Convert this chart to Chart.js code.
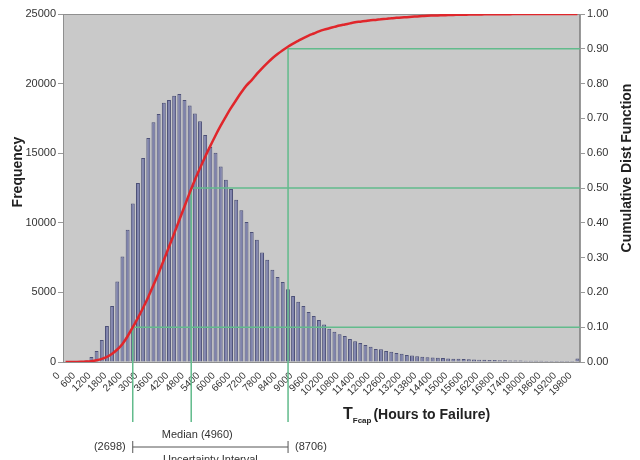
<!DOCTYPE html>
<html>
<head>
<meta charset="utf-8">
<script src="https://cdn.jsdelivr.net/npm/chart.js@4"></script>
<style>
  body { margin: 0; background: #fff; }
  canvas { display: block; }
</style>
</head>
<body>
<canvas id="failureChart" width="640" height="460"></canvas>
<script>
// bins of 200 hours (bin start)
const hours = [0,200,400,600,800,1000,1200,1400,1600,1800,2000,2200,2400,2600,2800,3000,3200,3400,3600,3800,
  4000,4200,4400,4600,4800,5000,5200,5400,5600,5800,6000,6200,6400,6600,6800,7000,7200,7400,7600,7800,
  8000,8200,8400,8600,8800,9000,9200,9400,9600,9800,10000,10200,10400,10600,10800,11000,11200,11400,11600,11800,
  12000,12200,12400,12600,12800,13000,13200,13400,13600,13800,14000,14200,14400,14600,14800,15000,15200,15400,15600,15800,
  16000,16200,16400,16600,16800,17000,17200,17400,17600,17800,18000,18200,18400,18600,18800,19000,19200,19400,19600,19800];

// histogram counts
const frequency = [0,5,20,50,110,360,790,1580,2590,4030,5780,7580,9500,11380,12860,14660,16100,17230,17810,18620,
  18820,19120,19250,18820,18430,17850,17300,16300,15450,15030,14040,13100,12430,11660,10900,10060,9340,8780,7870,7340,
  6620,6100,5740,5230,4750,4320,4030,3600,3310,3020,2690,2380,2180,1990,1870,1660,1490,1370,1220,1100,
  940,910,790,740,650,600,500,460,410,380,350,320,300,280,260,240,225,210,195,180,
  170,160,150,140,130,122,115,108,102,96,91,87,83,80,77,74,72,70,68,250];

// cumulative distribution
const cdf = [0,0,0.0002,0.0005,0.0012,0.0025,0.005,0.009,0.015,0.024,0.036,0.052,0.074,0.100,0.127,0.156,0.187,0.221,0.256,0.293,
  0.331,0.369,0.408,0.447,0.486,0.523,0.557,0.590,0.621,0.651,0.679,0.705,0.730,0.753,0.775,0.795,0.810,0.828,0.844,0.859,
  0.873,0.885,0.896,0.906,0.915,0.923,0.931,0.938,0.944,0.950,0.955,0.959,0.963,0.967,0.970,0.973,0.976,0.978,0.980,0.982,
  0.983,0.985,0.986,0.988,0.989,0.990,0.991,0.992,0.993,0.994,0.995,0.9955,0.996,0.9965,0.997,0.9974,0.9978,0.998,0.9983,0.9986,
  0.9988,0.999,0.9992,0.9993,0.9994,0.9995,0.9996,0.9997,0.9997,0.9998,0.9998,0.9999,0.9999,0.9999,0.9999,1,1,1,1,1];

// percentile markers (10%, median, 90%)
const markHours = [2698, 4960, 8706];
const markProb = [0.1, 0.5, 0.9];

const binWidth = hours[1] - hours[0];
const GREEN = "#62bb8c";
const FONT = "'Liberation Sans', Arial, sans-serif";

Chart.defaults.font.family = FONT;
Chart.defaults.color = "#333";

const hourPx = (chart, h) => chart.scales.x.getPixelForValue(h / binWidth - 0.5);

const decor = {
  id: "decor",
  beforeDatasetsDraw(chart) {
    const { ctx, chartArea: a } = chart;
    ctx.save();
    ctx.fillStyle = "#c9c9c9";
    ctx.fillRect(a.left, a.top, a.right - a.left, a.bottom - a.top);
    ctx.strokeStyle = "#8f8f8f";
    ctx.lineWidth = 1;
    ctx.strokeRect(a.left + 0.5, a.top + 0.5, a.right - a.left - 1, a.bottom - a.top);
    ctx.restore();
  },
  afterDatasetDraw(chart, args) {
    if (args.index !== 0) return;
    const { ctx, chartArea: a, scales } = chart;
    ctx.save();
    ctx.strokeStyle = GREEN;
    ctx.lineWidth = 1.5;
    markHours.forEach((h, k) => {
      const x = hourPx(chart, h);
      const y = scales.y1.getPixelForValue(markProb[k]);
      ctx.beginPath();
      ctx.moveTo(a.right, y);
      ctx.lineTo(x, y);
      ctx.lineTo(x, a.bottom + 60);
      ctx.stroke();
    });
    ctx.restore();
  },
  afterDraw(chart) {
    const { ctx } = chart;
    ctx.save();
    ctx.fillStyle = "#222";

    // axis titles
    ctx.font = "bold 14px " + FONT;
    ctx.textAlign = "center";
    ctx.textBaseline = "middle";
    ctx.save();
    ctx.translate(18, 172);
    ctx.rotate(-Math.PI / 2);
    ctx.fillText("Frequency", 0, 0);
    ctx.restore();
    ctx.save();
    ctx.translate(627, 168);
    ctx.rotate(-Math.PI / 2);
    ctx.fillText("Cumulative Dist Function", 0, 0);
    ctx.restore();

    ctx.textAlign = "left";
    ctx.textBaseline = "alphabetic";
    let tx = 343;
    ctx.font = "bold 16px " + FONT;
    ctx.fillText("T", tx, 419);
    tx += ctx.measureText("T").width;
    ctx.font = "bold 8px " + FONT;
    ctx.fillText("Fcap", tx, 423);
    tx += ctx.measureText("Fcap").width + 2;
    ctx.font = "bold 14px " + FONT;
    ctx.fillText("(Hours to Failure)", tx, 419);

    // uncertainty interval
    const x1 = hourPx(chart, markHours[0]);
    const xm = hourPx(chart, markHours[1]);
    const x2 = hourPx(chart, markHours[2]);
    const yb = 447;
    ctx.strokeStyle = "#555";
    ctx.lineWidth = 1;
    ctx.beginPath();
    ctx.moveTo(x1, yb); ctx.lineTo(x2, yb);
    ctx.moveTo(x1, yb - 6); ctx.lineTo(x1, yb + 6);
    ctx.moveTo(x2, yb - 6); ctx.lineTo(x2, yb + 6);
    ctx.stroke();

    ctx.fillStyle = "#333";
    ctx.font = "11px " + FONT;
    ctx.textBaseline = "middle";
    ctx.textAlign = "right";
    ctx.fillText("(" + markHours[0] + ")", x1 - 7, yb);
    ctx.textAlign = "left";
    ctx.fillText("(" + markHours[2] + ")", x2 + 7, yb);
    ctx.textAlign = "center";
    ctx.fillText("Median (" + markHours[1] + ")", xm + 6, 435);
    ctx.textBaseline = "top";
    ctx.fillText("Uncertainty Interval", (x1 + x2) / 2, 454);
    ctx.restore();
  }
};

new Chart(document.getElementById("failureChart"), {
  type: "bar",
  data: {
    labels: hours,
    datasets: [{
      label: "Frequency",
      data: frequency,
      yAxisID: "y",
      backgroundColor: "#7f83ad",
      borderColor: "#4d5178",
      borderWidth: 1,
      barPercentage: 0.76,
      categoryPercentage: 1,
      order: 2
    }, {
      type: "line",
      label: "CDF",
      data: cdf,
      yAxisID: "y1",
      borderColor: "#e0262b",
      borderWidth: 2.5,
      pointRadius: 0,
      tension: 0.3,
      fill: false,
      order: 1
    }]
  },
  options: {
    responsive: false,
    animation: false,
    layout: { padding: { top: 14, left: 0, right: 0, bottom: 0 } },
    plugins: {
      legend: { display: false },
      tooltip: { enabled: false }
    },
    scales: {
      x: {
        grid: { display: false },
        border: { display: false },
        afterFit: s => { s.height = 98; },
        ticks: {
          autoSkip: false,
          minRotation: 45,
          maxRotation: 45,
          padding: 0,
          labelOffset: -7,
          font: { size: 10 },
          color: "#333",
          callback: (v, i) => (i % 3 === 0 ? String(hours[i]) : "")
        }
      },
      y: {
        position: "left",
        min: 0,
        max: 25000,
        afterFit: s => { s.width = 63; },
        grid: { drawOnChartArea: false, tickLength: 5, color: "#999" },
        border: { color: "#999" },
        ticks: { stepSize: 5000, padding: 2, font: { size: 11 }, color: "#333", callback: v => String(v) }
      },
      y1: {
        position: "right",
        min: 0,
        max: 1,
        afterFit: s => { s.width = 60; },
        grid: { drawOnChartArea: false, tickLength: 5, color: "#999" },
        border: { color: "#999" },
        ticks: {
          stepSize: 0.1,
          padding: 2,
          font: { size: 11 },
          color: "#333",
          callback: v => v.toFixed(2)
        }
      }
    }
  },
  plugins: [decor]
});
</script>
</body>
</html>
